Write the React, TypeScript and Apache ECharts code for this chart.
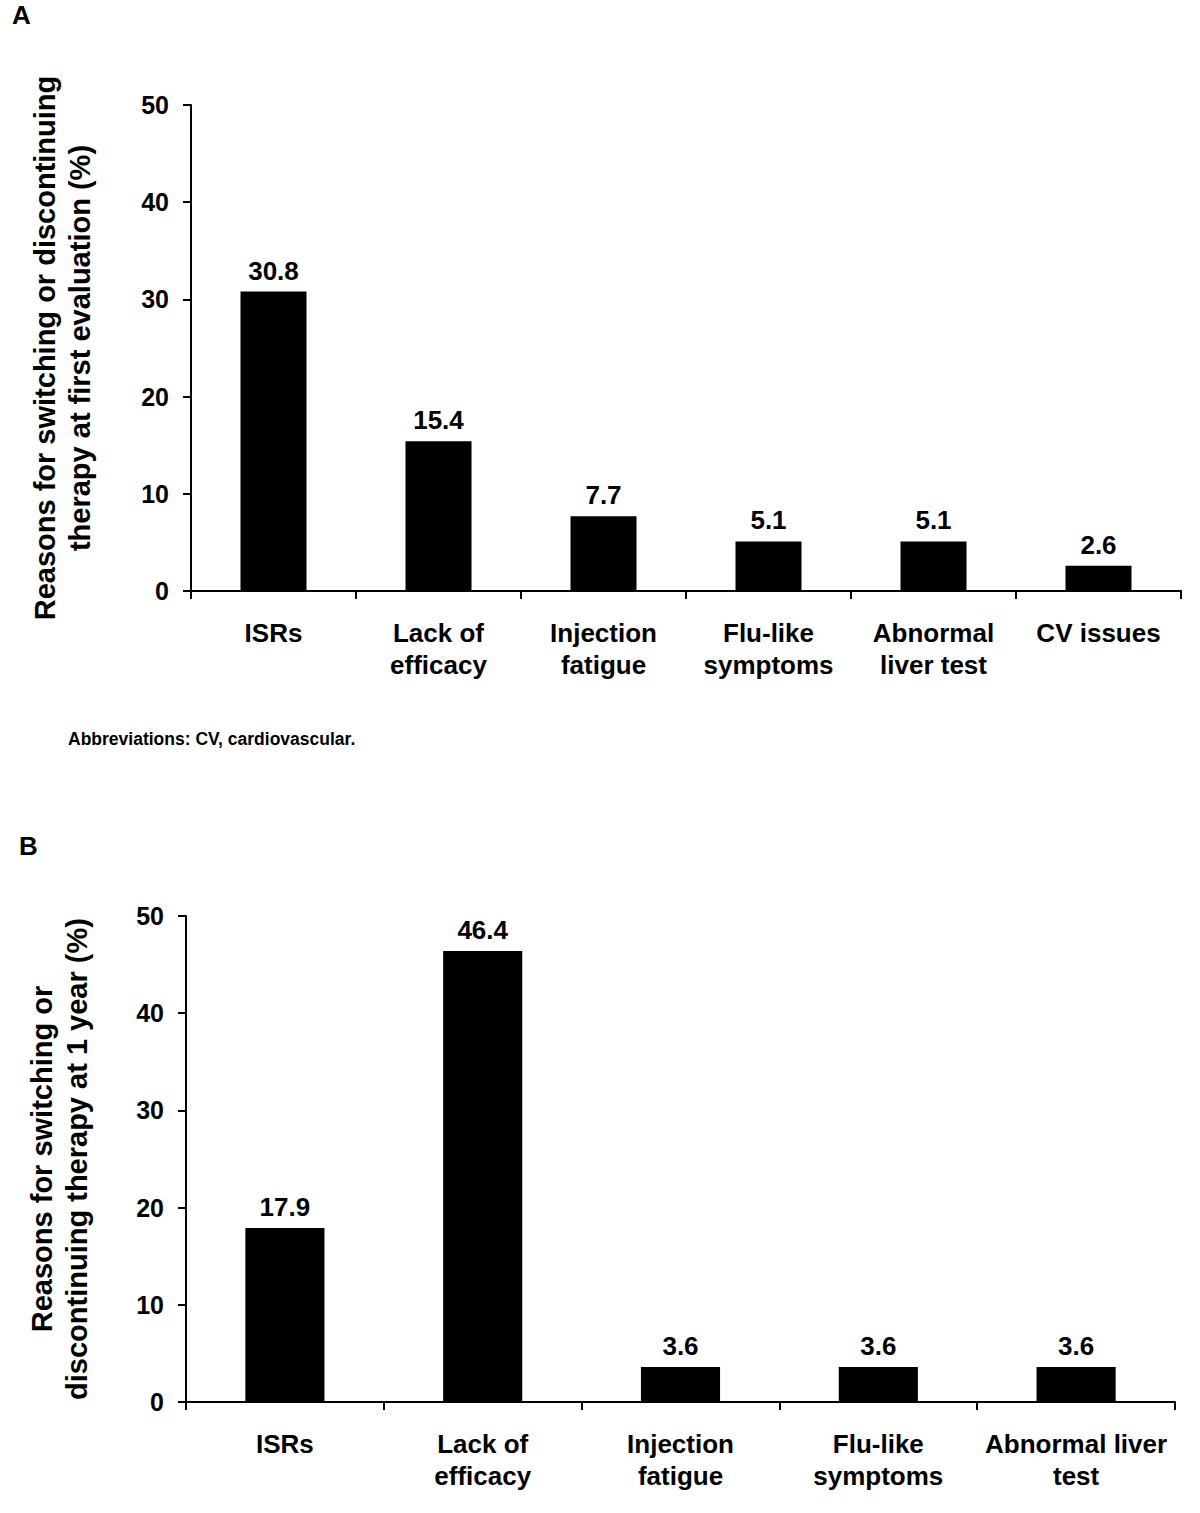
import React, { useEffect, useRef } from "react";
import * as echarts from "echarts";

const categoriesA = ["ISRs", "Lack of\nefficacy", "Injection\nfatigue", "Flu-like\nsymptoms", "Abnormal\nliver test", "CV issues"];
const valuesA = [30.8, 15.4, 7.7, 5.1, 5.1, 2.6];
const categoriesB = ["ISRs", "Lack of\nefficacy", "Injection\nfatigue", "Flu-like\nsymptoms", "Abnormal liver\ntest"];
const valuesB = [17.9, 46.4, 3.6, 3.6, 3.6];
const yTitleA = "Reasons for switching or discontinuing\ntherapy at first evaluation (%)";
const yTitleB = "Reasons for switching or\ndiscontinuing therapy at 1 year (%)";
const footnote = "Abbreviations: CV, cardiovascular.";

const FONT = "Liberation Sans, Arial, sans-serif";

export default function App() {
  const ref = useRef<HTMLDivElement>(null);
  useEffect(() => {
    document.body.style.margin = "0";
    const chart = echarts.init(ref.current!, null, { renderer: "svg" });
    const yAxisBase = (name: string, gap: number) => ({
      type: "value",
      min: 0,
      max: 50,
      interval: 10,
      name,
      nameLocation: "middle",
      nameRotate: 90,
      nameGap: gap,
      nameTextStyle: { fontFamily: FONT, fontWeight: "bold", fontSize: 29, color: "#000", lineHeight: 35 },
      axisLine: { show: true, lineStyle: { color: "#000", width: 2 } },
      axisTick: { show: true, length: 8, lineStyle: { color: "#000", width: 2 } },
      axisLabel: { fontFamily: FONT, fontWeight: "bold", fontSize: 25, color: "#000", margin: 22 },
      splitLine: { show: false },
    });
    const xAxisBase = (data: string[]) => ({
      type: "category",
      data,
      boundaryGap: true,
      axisLine: { show: true, lineStyle: { color: "#000", width: 2 } },
      axisTick: { show: true, length: 8, lineStyle: { color: "#000", width: 2 } },
      axisLabel: { fontFamily: FONT, fontWeight: "bold", fontSize: 26, color: "#000", margin: 26, lineHeight: 32, interval: 0 },
    });
    const label = {
      show: true,
      position: "top",
      distance: 8,
      fontFamily: FONT,
      fontWeight: "bold",
      fontSize: 26,
      color: "#000",
      formatter: (p: any) => p.value.toFixed(1),
    };
    chart.setOption({
      animation: false,
      backgroundColor: "#fff",
      grid: [
        { left: 191, top: 105, width: 990, height: 486 },
        { left: 186, top: 916, width: 989, height: 486 },
      ],
      xAxis: [
        { ...xAxisBase(categoriesA), gridIndex: 0 },
        { ...xAxisBase(categoriesB), gridIndex: 1 },
      ],
      yAxis: [
        { ...yAxisBase(yTitleA, 94), gridIndex: 0 },
        { ...yAxisBase(yTitleB, 92), gridIndex: 1 },
      ],
      series: [
        {
          type: "bar",
          xAxisIndex: 0,
          yAxisIndex: 0,
          data: valuesA,
          barWidth: "40%",
          itemStyle: { color: "#000" },
          label,
        },
        {
          type: "bar",
          xAxisIndex: 1,
          yAxisIndex: 1,
          data: valuesB,
          barWidth: "40%",
          itemStyle: { color: "#000" },
          label,
        },
      ],
      graphic: [
        { type: "text", left: 12, top: 2, style: { text: "A", fontFamily: FONT, fontWeight: "bold", fontSize: 26, fill: "#000" } },
        { type: "text", left: 19, top: 833, style: { text: "B", fontFamily: FONT, fontWeight: "bold", fontSize: 26, fill: "#000" } },
        { type: "text", left: 68, top: 730, style: { text: footnote, fontFamily: FONT, fontWeight: "bold", fontSize: 17.5, fill: "#000" } },
      ],
    });
    return () => chart.dispose();
  }, []);
  return <div ref={ref} style={{ width: 1200, height: 1513 }} />;
}
